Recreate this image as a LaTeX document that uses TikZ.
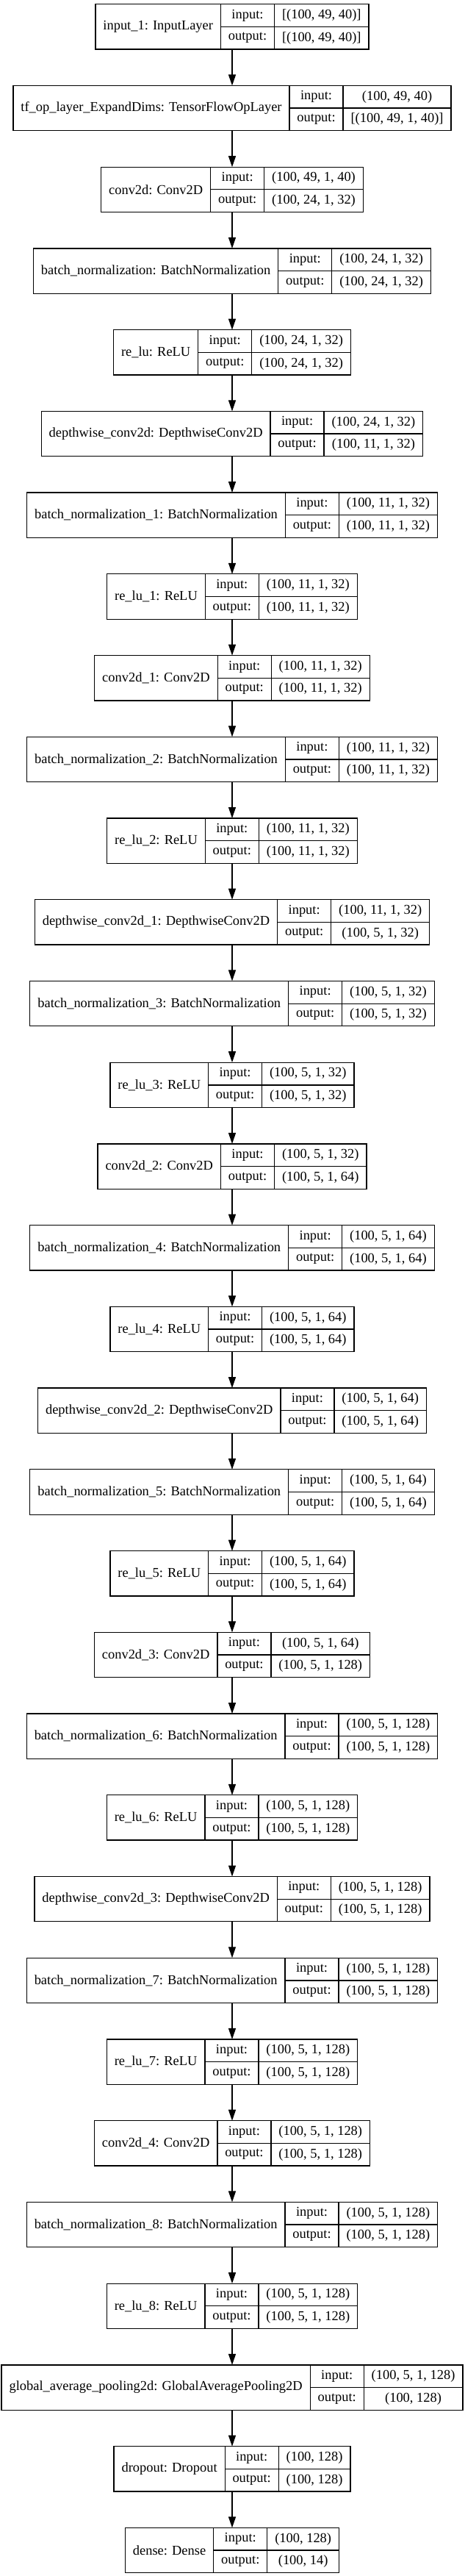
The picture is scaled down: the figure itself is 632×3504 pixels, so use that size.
\documentclass[tikz,border=0pt]{standalone}
\usepackage{fontspec}
\setmainfont{Liberation Serif}
\usetikzlibrary{arrows.meta}

\newcommand\lfont{\fontsize{13.83}{16}\selectfont}

\tikzset{
  cell/.style={draw=black, line width=0.95pt, inner sep=0pt, outer sep=0pt, font=\lfont, anchor=north west},
  layerframe/.style={inner sep=0pt, outer sep=0pt, anchor=north, minimum height=46pt},
  conn/.style={draw=black, line width=0.95pt, -{Triangle[length=11.25pt,width=7.5pt]}},
}

% measuring pass (outside the picture): #1 name, #2 index, #3 label, #4 input, #5 output
\newcommand\measurelay[5]{%
  \setbox0=\hbox{\lfont #3}\dimen0=\wd0 \advance\dimen0 by 15.75pt
  \expandafter\xdef\csname wA#1\endcsname{\the\dimen0}%
  \setbox0=\hbox{\lfont #4}\dimen2=\wd0
  \setbox0=\hbox{\lfont #5}\ifdim\wd0>\dimen2 \dimen2=\wd0 \fi
  \advance\dimen2 by 15.75pt
  \expandafter\xdef\csname wC#1\endcsname{\the\dimen2}%
  \dimen4=\dimen0 \advance\dimen4 by 54.75pt \advance\dimen4 by \dimen2
  \expandafter\xdef\csname wT#1\endcsname{\the\dimen4}%
}
% drawing pass
\newcommand\drawlay[5]{%
  \edef\wA{\csname wA#1\endcsname}\edef\wC{\csname wC#1\endcsname}\edef\wT{\csname wT#1\endcsname}%
  \pgfmathsetmacro\ltop{5.7+110.73*#2}%
  \node[layerframe, minimum width=\wT] (#1) at (316,\ltop) {};
  \node[cell, minimum width=\wA, minimum height=46pt] (#1-l) at (#1.north west) {#3};
  \node[cell, minimum width=54.75pt, minimum height=23pt] (#1-i) at (#1-l.north east) {input:};
  \node[cell, minimum width=54.75pt, minimum height=23pt] (#1-o) at (#1-i.south west) {output:};
  \node[cell, minimum width=\wC, minimum height=23pt] (#1-vi) at (#1-i.north east) {#4};
  \node[cell, minimum width=\wC, minimum height=23pt] (#1-vo) at (#1-vi.south west) {#5};
}

\newcommand\alllayers{%
\lay{L1}{0}{input\_1: InputLayer}{[(100, 49, 40)]}{[(100, 49, 40)]}
\lay{L2}{1}{tf\_op\_layer\_ExpandDims: TensorFlowOpLayer}{(100, 49, 40)}{[(100, 49, 1, 40)]}
\lay{L3}{2}{conv2d: Conv2D}{(100, 49, 1, 40)}{(100, 24, 1, 32)}
\lay{L4}{3}{batch\_normalization: BatchNormalization}{(100, 24, 1, 32)}{(100, 24, 1, 32)}
\lay{L5}{4}{re\_lu: ReLU}{(100, 24, 1, 32)}{(100, 24, 1, 32)}
\lay{L6}{5}{depthwise\_conv2d: DepthwiseConv2D}{(100, 24, 1, 32)}{(100, 11, 1, 32)}
\lay{L7}{6}{batch\_normalization\_1: BatchNormalization}{(100, 11, 1, 32)}{(100, 11, 1, 32)}
\lay{L8}{7}{re\_lu\_1: ReLU}{(100, 11, 1, 32)}{(100, 11, 1, 32)}
\lay{L9}{8}{conv2d\_1: Conv2D}{(100, 11, 1, 32)}{(100, 11, 1, 32)}
\lay{L10}{9}{batch\_normalization\_2: BatchNormalization}{(100, 11, 1, 32)}{(100, 11, 1, 32)}
\lay{L11}{10}{re\_lu\_2: ReLU}{(100, 11, 1, 32)}{(100, 11, 1, 32)}
\lay{L12}{11}{depthwise\_conv2d\_1: DepthwiseConv2D}{(100, 11, 1, 32)}{(100, 5, 1, 32)}
\lay{L13}{12}{batch\_normalization\_3: BatchNormalization}{(100, 5, 1, 32)}{(100, 5, 1, 32)}
\lay{L14}{13}{re\_lu\_3: ReLU}{(100, 5, 1, 32)}{(100, 5, 1, 32)}
\lay{L15}{14}{conv2d\_2: Conv2D}{(100, 5, 1, 32)}{(100, 5, 1, 64)}
\lay{L16}{15}{batch\_normalization\_4: BatchNormalization}{(100, 5, 1, 64)}{(100, 5, 1, 64)}
\lay{L17}{16}{re\_lu\_4: ReLU}{(100, 5, 1, 64)}{(100, 5, 1, 64)}
\lay{L18}{17}{depthwise\_conv2d\_2: DepthwiseConv2D}{(100, 5, 1, 64)}{(100, 5, 1, 64)}
\lay{L19}{18}{batch\_normalization\_5: BatchNormalization}{(100, 5, 1, 64)}{(100, 5, 1, 64)}
\lay{L20}{19}{re\_lu\_5: ReLU}{(100, 5, 1, 64)}{(100, 5, 1, 64)}
\lay{L21}{20}{conv2d\_3: Conv2D}{(100, 5, 1, 64)}{(100, 5, 1, 128)}
\lay{L22}{21}{batch\_normalization\_6: BatchNormalization}{(100, 5, 1, 128)}{(100, 5, 1, 128)}
\lay{L23}{22}{re\_lu\_6: ReLU}{(100, 5, 1, 128)}{(100, 5, 1, 128)}
\lay{L24}{23}{depthwise\_conv2d\_3: DepthwiseConv2D}{(100, 5, 1, 128)}{(100, 5, 1, 128)}
\lay{L25}{24}{batch\_normalization\_7: BatchNormalization}{(100, 5, 1, 128)}{(100, 5, 1, 128)}
\lay{L26}{25}{re\_lu\_7: ReLU}{(100, 5, 1, 128)}{(100, 5, 1, 128)}
\lay{L27}{26}{conv2d\_4: Conv2D}{(100, 5, 1, 128)}{(100, 5, 1, 128)}
\lay{L28}{27}{batch\_normalization\_8: BatchNormalization}{(100, 5, 1, 128)}{(100, 5, 1, 128)}
\lay{L29}{28}{re\_lu\_8: ReLU}{(100, 5, 1, 128)}{(100, 5, 1, 128)}
\lay{L30}{29}{global\_average\_pooling2d: GlobalAveragePooling2D}{(100, 5, 1, 128)}{(100, 128)}
\lay{L31}{30}{dropout: Dropout}{(100, 128)}{(100, 128)}
\lay{L32}{31}{dense: Dense}{(100, 128)}{(100, 14)}
}

\begin{document}
\let\lay\measurelay
\alllayers
\begin{tikzpicture}[x=0.75pt, y=-0.75pt]
\useasboundingbox (0,0) rectangle (632,3504);
\fill[white] (0,0) rectangle (632,3504);
\let\lay\drawlay
\alllayers
\foreach \a [evaluate=\a as \b using int(\a+1)] in {1,...,31}
  \draw[conn] (L\a.south) -- (L\b.north);
\end{tikzpicture}
\end{document}
